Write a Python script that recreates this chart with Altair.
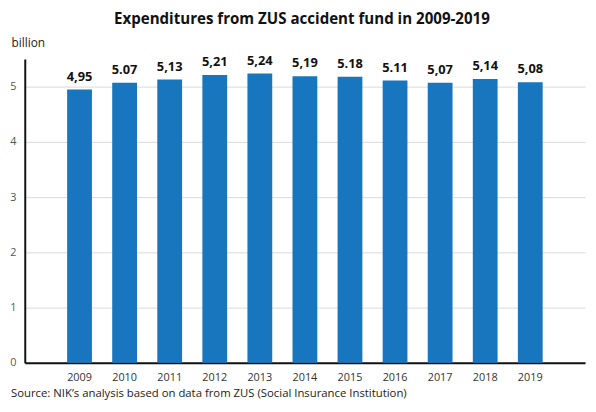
import pandas as pd
import altair as alt

years = ["2009", "2010", "2011", "2012", "2013", "2014",
         "2015", "2016", "2017", "2018", "2019"]
values = [4.95, 5.07, 5.13, 5.21, 5.24, 5.19, 5.18, 5.11, 5.07, 5.14, 5.08]
# labels as printed in the source (mixed decimal separators)
labels = ["4,95", "5.07", "5,13", "5,21", "5,24", "5,19",
          "5.18", "5.11", "5,07", "5,14", "5,08"]
grid_values = [0, 0.5, 1, 1.5, 2, 2.5, 3, 3.5, 4, 4.5, 5, 5.5]

source_note = "Source: NIK\u2019s analysis based on data from ZUS (Social Insurance Institution)"

df = pd.DataFrame({"Year": years, "Value": values, "Label": labels})

font = "Open Sans"

base = alt.Chart(df).encode(
    x=alt.X("Year:N", sort=years)
    .scale(paddingInner=0.45, paddingOuter=0.94)
    .axis(title=None, labelAngle=0, labelColor="#333333", labelFontSize=11,
          labelPadding=9, ticks=False, domainColor="#111111", domainWidth=2,
          labelFont=font),
)

bars = base.mark_bar(color="#1776be").encode(
    y=alt.Y("Value:Q")
    .scale(domain=[0, 5.5], nice=False)
    .axis(values=grid_values,
          labelExpr="datum.value % 1 == 0 ? format(datum.value, 'd') : ''",
          title="billion", titleAngle=0, titleAlign="left", titleBaseline="middle",
          titleX=-14, titleY=-17, titleFontWeight="normal", titleFontSize=12,
          titleColor="#222222", titleFont=font,
          labelColor="#555555", labelFontSize=11, labelPadding=9, labelFont=font,
          ticks=False, domainColor="#111111", domainWidth=2,
          gridColor="#d9d9d9", gridWidth=1),
)

text = base.mark_text(
    dy=-6, fontWeight="bold", fontSize=13, color="#111111", font=font,
    baseline="bottom",
).encode(
    y="Value:Q",
    text="Label:N",
)

note = alt.Chart(pd.DataFrame({"t": [source_note]})).mark_text(
    align="left", baseline="middle", fontSize=11.5, color="#222222", font=font,
).encode(
    x=alt.value(-14),
    y=alt.value(340),
    text="t:N",
)

chart = (bars + text + note).properties(
    width=568,
    height=308,
    padding={"left": 17, "top": 49, "right": 3, "bottom": 39},
    autosize=alt.AutoSizeParams(type="none"),
    title=alt.TitleParams(
        "Expenditures from ZUS accident fund in 2009-2019",
        fontSize=15.3, fontWeight="bold", font=font, color="#111111",
        anchor="middle", dx=-3, offset=9,
    ),
).configure_view(stroke=None)

chart.save("out.html", embed_options={"renderer": "svg", "actions": False})
